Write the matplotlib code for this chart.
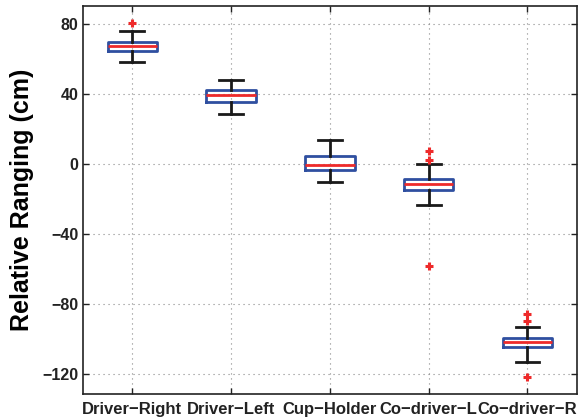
import numpy as np
import matplotlib
matplotlib.use("Agg")
import matplotlib.pyplot as plt

plt.rcParams['font.family'] = ['Liberation Sans', 'DejaVu Sans']
plt.rcParams['font.weight'] = 'bold'

# box statistics per location (cm)
labels = ["Driver\u2212Right", "Driver\u2212Left", "Cup\u2212Holder", "Co\u2212driver\u2212L", "Co\u2212driver\u2212R"]
whislo = [58.2, 28.9, -10.4, -23.0, -112.7]
q1 = [64.5, 35.5, -3.1, -14.6, -104.5]
med = [67.3, 39.5, -0.3, -11.3, -101.8]
q3 = [70.0, 42.2, 4.9, -8.3, -99.1]
whishi = [75.9, 48.3, 14.0, 0.1, -93.2]
fliers = [[80.5], [], [], [7.5, 2.6, -58.0], [-85.8, -89.6, -121.6]]

stats = []
for i in range(len(labels)):
    stats.append(dict(label=labels[i], whislo=whislo[i], q1=q1[i], med=med[i],
                      q3=q3[i], whishi=whishi[i], fliers=fliers[i]))

fig = plt.figure(figsize=(5.88, 4.17), dpi=100)
ax = fig.add_axes([0.141, 0.055, 0.84, 0.931])

ax.bxp(stats, widths=0.5, showfliers=True,
       boxprops=dict(color='#2f4fa0', linewidth=2),
       medianprops=dict(color='#ee2a2a', linewidth=2),
       whiskerprops=dict(color='#1a1a1a', linewidth=2),
       capprops=dict(color='#1a1a1a', linewidth=2),
       capwidths=0.24,
       flierprops=dict(marker='+', markeredgecolor='#ee2a2a', markersize=6,
                       markeredgewidth=2.2))

ax.set_xlim(0.5, 5.5)
ax.set_ylim(-131.3, 90.5)
ax.set_yticks([-120, -80, -40, 0, 40, 80])
ax.set_yticklabels(["\u2212120", "\u221280", "\u221240", "0", "40", "80"])
ax.grid(True, linestyle=(0, (1, 3.5)), color='#888888', linewidth=0.8)
ax.set_axisbelow(True)
ax.tick_params(direction='in', top=True, right=True, length=4, width=1,
               labelsize=11.5, colors='#222222', pad=3)
ax.tick_params(axis='x', labelsize=12, pad=6)
for s in ax.spines.values():
    s.set_linewidth(1.2)
    s.set_color('#222222')

ax.set_ylabel("Relative Ranging (cm)", fontsize=18, fontweight='bold', labelpad=6)

fig.savefig("out.png", dpi=100)
